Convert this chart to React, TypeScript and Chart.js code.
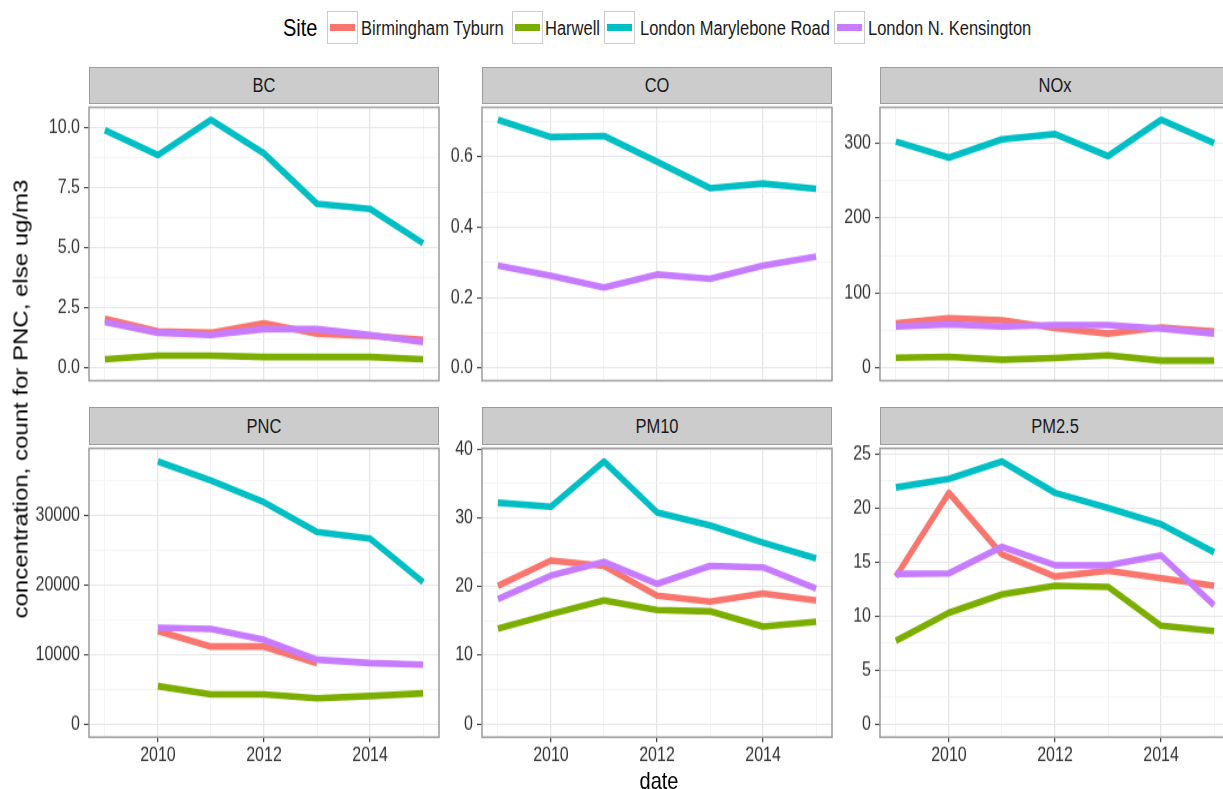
import React, { useEffect, useRef } from "react";
import { Chart, registerables } from "chart.js";

Chart.register(...registerables);

// ---------- data ----------
const years = [2009, 2010, 2011, 2012, 2013, 2014, 2015];
const sites = ["Birmingham Tyburn", "Harwell", "London Marylebone Road", "London N. Kensington"];
const siteColors = ["#F8766D", "#7CAE00", "#00BFC4", "#C77CFF"];
const xMajorTicks = [2010, 2012, 2014];
const xMajorLabels = ["2010", "2012", "2014"];

// BC
const bcBirmingham = [2.06, 1.54, 1.48, 1.87, 1.44, 1.35, 1.18];
const bcHarwell = [0.38, 0.53, 0.53, 0.47, 0.47, 0.47, 0.38];
const bcMarylebone = [9.91, 8.87, 10.34, 8.94, 6.84, 6.63, 5.2];
const bcKensington = [1.93, 1.48, 1.39, 1.63, 1.63, 1.39, 1.09];
const bcTicks = [0, 2.5, 5, 7.5, 10];
const bcTickLabels = ["0.0", "2.5", "5.0", "7.5", "10.0"];

// CO
const coBirmingham = [null, null, null, null, null, null, null];
const coHarwell = [null, null, null, null, null, null, null];
const coMarylebone = [0.705, 0.656, 0.659, 0.586, 0.511, 0.524, 0.509];
const coKensington = [0.291, 0.262, 0.229, 0.266, 0.254, 0.291, 0.317];
const coTicks = [0, 0.2, 0.4, 0.6];
const coTickLabels = ["0.0", "0.2", "0.4", "0.6"];

// NOx
const noxBirmingham = [59.8, 66.8, 63.9, 53.6, 46.2, 54.5, 49];
const noxHarwell = [14, 15.2, 11.5, 13.6, 17.3, 10.3, 10.3];
const noxMarylebone = [302, 280.5, 305, 312, 282.6, 331, 300];
const noxKensington = [55.7, 58.6, 55.7, 57.7, 57.7, 52.8, 46.2];
const noxTicks = [0, 100, 200, 300];
const noxTickLabels = ["0", "100", "200", "300"];

// PNC
const pncBirmingham = [null, 13370, 11130, 11130, 8760, null, null];
const pncHarwell = [null, 5450, 4270, 4270, 3700, 4020, 4410];
const pncMarylebone = [null, 37700, 34980, 31850, 27590, 26630, 20380];
const pncKensington = [null, 13840, 13650, 12090, 9240, 8760, 8530];
const pncTicks = [0, 10000, 20000, 30000];
const pncTickLabels = ["0", "10000", "20000", "30000"];

// PM10
const pm10Birmingham = [20.1, 23.8, 23.0, 18.7, 17.8, 19.0, 18.0];
const pm10Harwell = [13.9, 16.0, 18.0, 16.6, 16.4, 14.2, 14.9];
const pm10Marylebone = [32.2, 31.6, 38.2, 30.8, 28.9, 26.4, 24.1];
const pm10Kensington = [18.2, 21.6, 23.6, 20.4, 23.0, 22.8, 19.7];
const pm10Ticks = [0, 10, 20, 30, 40];
const pm10TickLabels = ["0", "10", "20", "30", "40"];

// PM2.5
const pm25Birmingham = [13.65, 21.4, 15.7, 13.65, 14.2, 13.5, 12.8];
const pm25Harwell = [7.7, 10.3, 12.0, 12.8, 12.7, 9.1, 8.6];
const pm25Marylebone = [21.9, 22.7, 24.3, 21.4, 20.0, 18.5, 15.9];
const pm25Kensington = [13.9, 13.95, 16.4, 14.7, 14.7, 15.6, 11.0];
const pm25Ticks = [0, 5, 10, 15, 20, 25];
const pm25TickLabels = ["0", "5", "10", "15", "20", "25"];

const panels = [
  { name: "BC", series: [bcBirmingham, bcHarwell, bcMarylebone, bcKensington], ticks: bcTicks, labels: bcTickLabels },
  { name: "CO", series: [coBirmingham, coHarwell, coMarylebone, coKensington], ticks: coTicks, labels: coTickLabels },
  { name: "NOx", series: [noxBirmingham, noxHarwell, noxMarylebone, noxKensington], ticks: noxTicks, labels: noxTickLabels },
  { name: "PNC", series: [pncBirmingham, pncHarwell, pncMarylebone, pncKensington], ticks: pncTicks, labels: pncTickLabels },
  { name: "PM10", series: [pm10Birmingham, pm10Harwell, pm10Marylebone, pm10Kensington], ticks: pm10Ticks, labels: pm10TickLabels },
  { name: "PM2.5", series: [pm25Birmingham, pm25Harwell, pm25Marylebone, pm25Kensington], ticks: pm25Ticks, labels: pm25TickLabels },
];

// ---------- layout ----------
const FONT = "'Liberation Sans', Arial, Helvetica, sans-serif";
const S = 1.2; // vertical stretch of the reference rendering
const COL_LEFT = [89, 482, 880];
const PANEL_W = 350;
const ROW_TOP = [103, 444];
const ROW_H = [292, 293];
const STRIP_TOP = [67, 407];
const Y_AXIS_W = 60;
const X_AXIS_H = 34;
const PAD_TOP = 12;
const PAD_RIGHT = 2;
const MAJOR_GRID = "#E6E6E6";
const MINOR_GRID = "#F3F3F3";
const BORDER = "#9C9C9C";
const LEGEND_KEY_X = [327, 512, 604, 834];
const LEGEND_TEXT_X = [361, 545, 640, 868];

function minorBreaks(majors: number[], lo: number, hi: number) {
  const out: number[] = [];
  const step = majors[1] - majors[0];
  const cands = [majors[0] - step / 2];
  for (let i = 0; i < majors.length; i++) cands.push(majors[i] + step / 2);
  for (const c of cands) if (c >= lo && c <= hi) out.push(c);
  return out;
}

const isIn = (arr: number[], v: number) => arr.some((a) => Math.abs(a - v) < 1e-9);

function Panel({ idx }: { idx: number }) {
  const ref = useRef<HTMLCanvasElement | null>(null);
  const p = panels[idx];
  const col = idx % 3;
  const row = Math.floor(idx / 3);
  const bottom = row === 1;
  const panelLeft = COL_LEFT[col];
  const panelTop = ROW_TOP[row];
  const panelH = ROW_H[row];
  const cw = Y_AXIS_W + PANEL_W + PAD_RIGHT;
  // unscaled (pre-stretch) vertical sizes
  const padTopU = PAD_TOP / S;
  const panelHU = panelH / S;
  const xhU = bottom ? X_AXIS_H / S : 0;
  const h0 = Math.ceil(padTopU + panelHU + xhU + 1.5);
  const padBottomU = h0 - padTopU - panelHU - xhU;

  useEffect(() => {
    if (!ref.current) return;
    const vals: number[] = [];
    p.series.forEach((s) => s.forEach((v) => { if (v != null) vals.push(v as number); }));
    const dmax = Math.max(...vals);
    const ymin = -0.05 * dmax;
    const ymax = 1.05 * dmax;
    const xr = years[years.length - 1] - years[0];
    const xmin = years[0] - 0.05 * xr;
    const xmax = years[years.length - 1] + 0.05 * xr;
    const yMinor = minorBreaks(p.ticks, ymin, ymax);
    const yAll = [...p.ticks, ...yMinor].sort((a, b) => a - b);

    const borderPlugin = {
      id: "panelBorder",
      afterDraw(chart: any) {
        const { ctx, chartArea: a } = chart;
        ctx.save();
        ctx.strokeStyle = BORDER;
        ctx.lineWidth = 1.5;
        ctx.strokeRect(a.left, a.top, a.right - a.left, a.bottom - a.top);
        ctx.restore();
      },
    };

    const tickFont = { family: FONT, size: 16 };

    const chart = new Chart(ref.current, {
      type: "line",
      data: {
        datasets: p.series.map((s, i) => ({
          label: sites[i],
          data: years.map((y, j) => ({ x: y, y: s[j] as any })),
          borderColor: siteColors[i],
          backgroundColor: siteColors[i],
          borderWidth: 5.6,
          pointRadius: 0,
          pointHoverRadius: 0,
          tension: 0,
          fill: false,
          spanGaps: false,
          borderCapStyle: "butt",
          borderJoinStyle: "round",
          order: 3 - i,
        })),
      },
      options: {
        responsive: false,
        animation: false,
        events: [],
        devicePixelRatio: 1,
        layout: { padding: { top: padTopU, right: PAD_RIGHT, bottom: padBottomU, left: 0 }, autoPadding: false } as any,
        plugins: { legend: { display: false }, tooltip: { enabled: false }, title: { display: false } },
        scales: {
          x: {
            type: "linear",
            min: xmin,
            max: xmax,
            border: { display: false },
            afterBuildTicks: (s: any) => { s.ticks = years.map((v) => ({ value: v })); },
            afterFit: (s: any) => { s.height = xhU; },
            ticks: {
              display: bottom,
              autoSkip: false,
              maxRotation: 0,
              minRotation: 0,
              padding: 2,
              font: tickFont,
              color: "#333333",
              callback: (v: any) => {
                const k = xMajorTicks.indexOf(Number(v));
                return k >= 0 ? xMajorLabels[k] : "";
              },
            },
            grid: {
              drawTicks: bottom,
              tickLength: 5 / S,
              tickWidth: 1.2,
              tickColor: (c: any) => (c.tick && isIn(xMajorTicks, c.tick.value) ? "#333333" : "rgba(0,0,0,0)"),
              color: (c: any) => (c.tick && isIn(xMajorTicks, c.tick.value) ? MAJOR_GRID : MINOR_GRID),
              lineWidth: (c: any) => (c.tick && isIn(xMajorTicks, c.tick.value) ? 1.3 : 1),
            },
          },
          y: {
            type: "linear",
            min: ymin,
            max: ymax,
            border: { display: false },
            afterBuildTicks: (s: any) => { s.ticks = yAll.map((v) => ({ value: v })); },
            afterFit: (s: any) => { s.width = Y_AXIS_W; },
            ticks: {
              autoSkip: false,
              padding: 4,
              font: tickFont,
              color: "#333333",
              callback: (v: any) => {
                const n = Number(v);
                const k = p.ticks.findIndex((t) => Math.abs(t - n) < 1e-9);
                return k >= 0 ? p.labels[k] : "";
              },
            },
            grid: {
              drawTicks: true,
              tickLength: 5,
              tickWidth: 1,
              tickColor: (c: any) => (c.tick && isIn(p.ticks, c.tick.value) ? "#333333" : "rgba(0,0,0,0)"),
              color: (c: any) => (c.tick && isIn(p.ticks, c.tick.value) ? MAJOR_GRID : MINOR_GRID),
              lineWidth: (c: any) => (c.tick && isIn(p.ticks, c.tick.value) ? 1.1 : 0.9),
            },
          },
        },
      } as any,
      plugins: [borderPlugin],
    });
    return () => chart.destroy();
  }, [idx]);

  return (
    <>
      <div
        style={{
          position: "absolute",
          left: panelLeft,
          top: STRIP_TOP[row],
          width: PANEL_W,
          height: panelTop - STRIP_TOP[row] + 1,
          boxSizing: "border-box",
          background: "#CCCCCC",
          border: `1.5px solid ${BORDER}`,
          display: "flex",
          alignItems: "center",
          justifyContent: "center",
          fontFamily: FONT,
          fontSize: 16.5,
          color: "#1A1A1A",
        }}
      >
        <span style={{ display: "inline-block", transform: `scaleY(${S})` }}>{p.name}</span>
      </div>
      <canvas
        ref={ref}
        width={cw}
        height={h0}
        style={{
          position: "absolute",
          left: panelLeft - Y_AXIS_W,
          top: panelTop - PAD_TOP,
          width: cw,
          height: h0 * S,
          display: "block",
        }}
      />
    </>
  );
}

function Legend() {
  const txt = (left: number, size: number, color: string, text: string, key: string) => (
    <div
      key={key}
      style={{
        position: "absolute",
        left,
        top: 28,
        transform: `translateY(-50%) scaleY(${S})`,
        fontSize: size,
        lineHeight: `${Math.round(size * 1.2)}px`,
        color,
        whiteSpace: "nowrap",
        fontFamily: FONT,
      }}
    >
      {text}
    </div>
  );
  return (
    <>
      {txt(283, 20, "#000000", "Site", "title")}
      {sites.map((s, i) => (
        <React.Fragment key={s}>
          <div
            style={{
              position: "absolute",
              left: LEGEND_KEY_X[i],
              top: 11,
              width: 31,
              height: 33,
              boxSizing: "border-box",
              border: "1.5px solid #CCCCCC",
              background: "#fff",
              display: "flex",
              alignItems: "center",
              justifyContent: "center",
            }}
          >
            <div style={{ width: 25, height: 6.5, background: siteColors[i] }} />
          </div>
          {txt(LEGEND_TEXT_X[i], 16.5, "#1A1A1A", s, "t" + i)}
        </React.Fragment>
      ))}
    </>
  );
}

export default function App() {
  return (
    <div
      style={{
        position: "absolute",
        left: 0,
        top: 0,
        width: 1223,
        height: 789,
        overflow: "hidden",
        background: "#FFFFFF",
        fontFamily: FONT,
      }}
    >
      <Legend />
      {panels.map((_, i) => (
        <Panel key={i} idx={i} />
      ))}
      <div
        style={{
          position: "absolute",
          left: 21,
          top: 399,
          transform: `translate(-50%, -50%) scaleY(${S}) rotate(-90deg)`,
          whiteSpace: "nowrap",
          fontSize: 20,
          lineHeight: "23px",
          color: "#000",
        }}
      >
        concentration, count for PNC, else ug/m3
      </div>
      <div
        style={{
          position: "absolute",
          left: 659,
          top: 781,
          transform: `translate(-50%, -50%) scaleY(${S})`,
          whiteSpace: "nowrap",
          fontSize: 20,
          lineHeight: "23px",
          color: "#000",
        }}
      >
        date
      </div>
    </div>
  );
}
